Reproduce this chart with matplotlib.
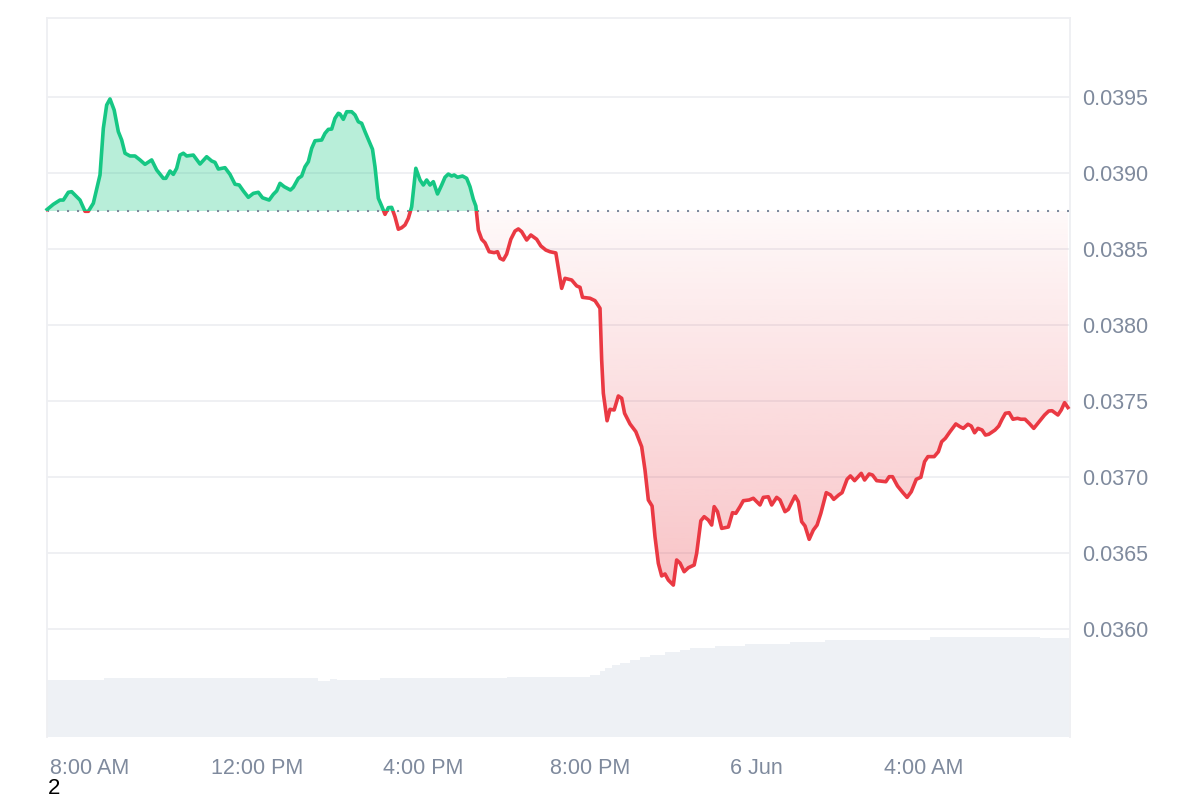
import numpy as np
import matplotlib
matplotlib.use("Agg")
import matplotlib.pyplot as plt
from matplotlib.colors import to_rgb
from matplotlib.patches import Rectangle
from matplotlib.path import Path

plt.rcParams['font.family'] = ['Liberation Sans', 'DejaVu Sans']

# hours after 8:00 AM, 5 Jun
hours = [
    -1.03, -0.88, -0.72, -0.64, -0.52, -0.44, -0.24, -0.12, -0.04, 0.08,
    0.24, 0.32, 0.40, 0.48, 0.58, 0.68, 0.76, 0.84, 0.96, 1.08,
    1.20, 1.32, 1.48, 1.60, 1.76, 1.82, 1.92, 2.00, 2.08, 2.16,
    2.24, 2.32, 2.48, 2.64, 2.80, 2.92, 3.00, 3.08, 3.24, 3.36,
    3.48, 3.58, 3.68, 3.80, 3.92, 4.04, 4.14, 4.30, 4.40, 4.48,
    4.56, 4.66, 4.81, 4.88, 5.00, 5.08, 5.16, 5.24, 5.32, 5.40,
    5.56, 5.64, 5.72, 5.80, 5.88, 5.96, 6.00, 6.08, 6.16, 6.28,
    6.36, 6.44, 6.52, 6.60, 6.72, 6.78, 6.84, 6.92, 7.00, 7.08,
    7.16, 7.24, 7.32, 7.40, 7.48, 7.56, 7.64, 7.72, 7.82, 7.92,
    8.00, 8.08, 8.16, 8.24, 8.34, 8.44, 8.52, 8.60, 8.68, 8.74,
    8.82, 8.94, 9.04, 9.12, 9.20, 9.26, 9.32, 9.40, 9.48, 9.58,
    9.70, 9.78, 9.84, 9.92, 10.00, 10.10, 10.20, 10.28, 10.36, 10.48,
    10.58, 10.72, 10.82, 10.94, 11.04, 11.18, 11.32, 11.40, 11.56, 11.68,
    11.76, 11.82, 12.00, 12.12, 12.24, 12.28, 12.32, 12.41, 12.48, 12.58,
    12.68, 12.76, 12.83, 12.96, 13.10, 13.24, 13.32, 13.40, 13.49, 13.56,
    13.64, 13.72, 13.80, 13.88, 14.00, 14.08, 14.16, 14.26, 14.36, 14.50,
    14.56, 14.66, 14.74, 14.84, 14.92, 14.98, 15.06, 15.16, 15.32, 15.42,
    15.50, 15.60, 15.68, 15.82, 15.92, 16.08, 16.16, 16.28, 16.36, 16.48,
    16.56, 16.68, 16.76, 16.92, 17.00, 17.08, 17.16, 17.26, 17.36, 17.45,
    17.54, 17.67, 17.77, 17.85, 17.97, 18.05, 18.17, 18.25, 18.35, 18.51,
    18.59, 18.70, 18.78, 18.88, 19.10, 19.18, 19.26, 19.38, 19.51, 19.61,
    19.71, 19.83, 19.94, 20.03, 20.11, 20.26, 20.36, 20.44, 20.53, 20.64,
    20.78, 20.88, 20.96, 21.07, 21.15, 21.23, 21.31, 21.41, 21.49, 21.57,
    21.72, 21.81, 21.89, 21.97, 22.06, 22.15, 22.26, 22.34, 22.44, 22.54,
    22.65, 22.78, 22.91, 23.01, 23.09, 23.23, 23.31, 23.39, 23.47,
]
price = [
    0.038760, 0.038794, 0.038822, 0.038822, 0.038873, 0.038877, 0.038822, 0.038748, 0.038748, 0.038801,
    0.038987, 0.039294, 0.039447, 0.039487, 0.039414, 0.039272, 0.039217, 0.039130, 0.039112, 0.039112,
    0.039086, 0.039057, 0.039086, 0.039020, 0.038965, 0.038965, 0.039013, 0.038991, 0.039031, 0.039118,
    0.039130, 0.039112, 0.039118, 0.039059, 0.039107, 0.039079, 0.039070, 0.039026, 0.039035, 0.038991,
    0.038926, 0.038921, 0.038882, 0.038840, 0.038866, 0.038873, 0.038837, 0.038822, 0.038860, 0.038882,
    0.038932, 0.038910, 0.038888, 0.038906, 0.038965, 0.038980, 0.039041, 0.039074, 0.039162, 0.039212,
    0.039217, 0.039261, 0.039287, 0.039289, 0.039360, 0.039393, 0.039388, 0.039353, 0.039403, 0.039403,
    0.039382, 0.039337, 0.039327, 0.039272, 0.039195, 0.039156, 0.039041, 0.038834, 0.038783, 0.038728,
    0.038772, 0.038774, 0.038712, 0.038630, 0.038640, 0.038658, 0.038702, 0.038778, 0.039031, 0.038954,
    0.038921, 0.038954, 0.038921, 0.038943, 0.038862, 0.038921, 0.038972, 0.038993, 0.038980, 0.038987,
    0.038972, 0.038980, 0.038965, 0.038910, 0.038827, 0.038783, 0.038625, 0.038564, 0.038541, 0.038482,
    0.038476, 0.038482, 0.038439, 0.038428, 0.038467, 0.038564, 0.038618, 0.038632, 0.038614, 0.038559,
    0.038592, 0.038564, 0.038520, 0.038493, 0.038482, 0.038474, 0.038241, 0.038307, 0.038296, 0.038257,
    0.038248, 0.038182, 0.038176, 0.038160, 0.038110, 0.037770, 0.037551, 0.037370, 0.037445, 0.037441,
    0.037533, 0.037518, 0.037419, 0.037349, 0.037298, 0.037199, 0.037046, 0.036849, 0.036809, 0.036607,
    0.036432, 0.036349, 0.036362, 0.036322, 0.036289, 0.036454, 0.036434, 0.036377, 0.036403, 0.036421,
    0.036498, 0.036712, 0.036739, 0.036717, 0.036684, 0.036805, 0.036772, 0.036662, 0.036671, 0.036765,
    0.036761, 0.036805, 0.036844, 0.036849, 0.036860, 0.036816, 0.036866, 0.036870, 0.036816, 0.036866,
    0.036849, 0.036772, 0.036787, 0.036875, 0.036837, 0.036706, 0.036678, 0.036590, 0.036651, 0.036684,
    0.036761, 0.036897, 0.036882, 0.036853, 0.036882, 0.036897, 0.036985, 0.037007, 0.036976, 0.037024,
    0.036980, 0.037020, 0.037013, 0.036976, 0.036969, 0.037002, 0.037002, 0.036941, 0.036897, 0.036866,
    0.036903, 0.036985, 0.036998, 0.037101, 0.037134, 0.037134, 0.037166, 0.037232, 0.037255, 0.037298,
    0.037349, 0.037331, 0.037320, 0.037347, 0.037335, 0.037291, 0.037320, 0.037309, 0.037276, 0.037281,
    0.037309, 0.037335, 0.037380, 0.037419, 0.037423, 0.037380, 0.037386, 0.037380, 0.037380, 0.037353,
    0.037320, 0.037364, 0.037408, 0.037434, 0.037436, 0.037408, 0.037441, 0.037489, 0.037457,
]
base_price = 0.03875  # opening price, dotted line

# volume (stair steps), arbitrary millions
vol_edges = [-1.03, 0.34, 5.47, 5.76, 5.93, 6.12, 6.96, 10.01, 12.0, 12.24, 12.36, 12.53, 12.72,
             12.96, 13.2, 13.44, 13.8, 14.16, 14.4, 15.0, 15.72, 16.8, 17.64, 20.16, 22.8, 23.5]
vol_musd = [5.7, 5.9, 5.65, 5.85, 5.75, 5.7, 5.9, 6.0, 6.2, 6.6, 6.9, 7.2, 7.4,
            7.7, 8.0, 8.2, 8.5, 8.7, 8.9, 9.1, 9.3, 9.5, 9.7, 10.0, 9.9]

xtick_hours = [0, 4, 8, 12, 16, 20]
xtick_labels = ['8:00 AM', '12:00 PM', '4:00 PM', '8:00 PM', '6 Jun', '4:00 AM']
ytick_vals = [0.0360, 0.0365, 0.0370, 0.0375, 0.0380, 0.0385, 0.0390, 0.0395]

GREEN = '#16c784'
RED = '#ea3943'
GRID = '#eeeff2'
LABEL = '#7f8a9d'

t = np.array(hours)
p = np.array(price)
xlim = (-1.032, 23.52)

fig = plt.figure(figsize=(12, 8), dpi=100)
rect = [47 / 1200, 63 / 800, 1023 / 1200, 719 / 800]
axv = fig.add_axes(rect, zorder=0)
ax = fig.add_axes(rect, zorder=1)
ax.patch.set_visible(False)

# volume bars at the bottom
axv.stairs(vol_musd, vol_edges, fill=True, color='#eef1f5', lw=0)
axv.set_xlim(*xlim)
axv.set_ylim(0, 71.9)
axv.axis('off')

# fills
ax.fill_between(t, p, base_price, where=p >= base_price, interpolate=True,
                color=GREEN, alpha=0.3, lw=0, zorder=1)
red_poly = ax.fill_between(t, p, base_price, where=p < base_price, interpolate=True,
                           facecolor='none', lw=0)
n = 256
rgba = np.zeros((n, 1, 4))
rgba[..., :3] = to_rgb(RED)
rgba[:, 0, 3] = np.linspace(0.30, 0.03, n)
im = ax.imshow(rgba, aspect='auto', origin='lower', interpolation='bilinear',
               extent=[t[0], t[-1], p.min(), base_price], zorder=1)
im.set_clip_path(Path.make_compound_path(*red_poly.get_paths()), transform=ax.transData)

# baseline
ax.axhline(base_price, color='#7f8a9d', lw=1.5, ls=(0, (1, 3.8)), zorder=2)

# price line, green above the baseline and red below
ln_g, = ax.plot(t, p, color=GREEN, lw=2.6, zorder=3)
ln_g.set_clip_path(Rectangle((-5, base_price), 40, 0.01, transform=ax.transData))
ln_r, = ax.plot(t, p, color=RED, lw=2.6, zorder=3)
ln_r.set_clip_path(Rectangle((-5, base_price - 0.01), 40, 0.01, transform=ax.transData))

ax.set_xlim(*xlim)
ax.set_ylim(0.0352895, 0.0400197)
ax.yaxis.tick_right()
ax.set_yticks(ytick_vals)
ax.set_yticklabels([f'{v:.4f}' for v in ytick_vals])
ax.set_xticks(xtick_hours)
ax.set_xticklabels(xtick_labels)
ax.grid(axis='y', color=GRID, lw=1.3)
ax.set_axisbelow(True)
ax.tick_params(length=0, labelsize=15.5, labelcolor=LABEL)
ax.tick_params(axis='x', pad=15)
ax.tick_params(axis='y', pad=9)
for s in ['top', 'left', 'right']:
    ax.spines[s].set_color(GRID)
    ax.spines[s].set_linewidth(1.3)
ax.spines['bottom'].set_visible(False)

fig.text(48 / 1200, 1 / 800, '2', fontsize=16, color='black', va='bottom')

fig.savefig('out.png', dpi=100)
